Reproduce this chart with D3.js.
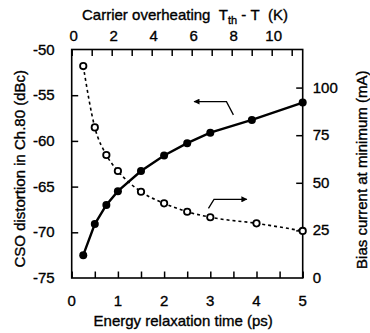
<!DOCTYPE html>
<html>
<head>
<meta charset="utf-8">
<script src="https://cdn.jsdelivr.net/npm/d3@7"></script>
<style>
  body { margin: 0; background: #fff; }
  text { font-family: "Liberation Sans", Arial, sans-serif; fill: #000; stroke: #000; stroke-width: 0.35px; }
</style>
</head>
<body>
<div id="chart"></div>
<script>
// relaxation time (ps)
const tau = [0.25, 0.5, 0.75, 1, 1.5, 2, 2.5, 3, 3.9, 5];
const tauBias = [0.25, 0.5, 0.75, 1, 1.5, 2, 2.5, 3, 4, 5];
// CSO distortion (dBc), left axis
const cso = [-72.5, -69.1, -67.0, -65.5, -63.3, -61.6, -60.25, -59.1, -57.7, -55.8];
// bias current at minimum (mA), right axis
const bias = [111.3, 79.1, 64.6, 56.2, 45.3, 39.2, 34.8, 31.9, 28.7, 24.7];

const xTicks = [0, 0.5, 1, 1.5, 2, 2.5, 3, 3.5, 4, 4.5, 5];
const xLabels = [0, 1, 2, 3, 4, 5];
const leftTicks = [-75, -70, -65, -60, -55, -50];
const rightTicks = [0, 25, 50, 75, 100];
const topTicks = [0, 1, 2, 3, 4, 5, 6, 7, 8, 9, 10, 11];
const topLabels = [0, 2, 4, 6, 8, 10];

const width = 370, height = 333;
const margin = { top: 49.5, right: 67.3, bottom: 55, left: 71.7 };
const w = width - margin.left - margin.right;
const h = height - margin.top - margin.bottom;

const svg = d3.select("#chart").append("svg")
  .attr("width", width)
  .attr("height", height);

const g = svg.append("g")
  .attr("transform", "translate(" + margin.left + "," + margin.top + ")");

const x = d3.scaleLinear().domain([0, 5]).range([0, w]);
const xTop = d3.scaleLinear().domain([0, 11.55]).range([0, w]);
const yL = d3.scaleLinear().domain([-75, -50]).range([h, 0]);
const yR = d3.scaleLinear().domain([0, 120]).range([h, 0]);

const tick = 6.5;
const fontSize = 15;

// bottom axis
g.append("g")
  .attr("transform", "translate(0," + h + ")")
  .call(d3.axisBottom(x).tickValues(xTicks).tickSize(-tick).tickSizeOuter(0).tickFormat(""))
  .call(a => a.select(".domain").remove());
g.selectAll(".xlab").data(xLabels).enter().append("text")
  .attr("x", d => x(d)).attr("y", h + 28)
  .attr("text-anchor", "middle").attr("font-size", fontSize)
  .text(d => d);

// top axis
g.append("g")
  .call(d3.axisTop(xTop).tickValues(topTicks).tickSize(-tick).tickSizeOuter(0).tickFormat(""))
  .call(a => a.select(".domain").remove());
g.selectAll(".tlab").data(topLabels).enter().append("text")
  .attr("x", d => xTop(d) + 2).attr("y", -9)
  .attr("text-anchor", "middle").attr("font-size", fontSize)
  .text(d => d);

// left axis
g.append("g")
  .call(d3.axisLeft(yL).tickValues(leftTicks.slice(1, -1)).tickSize(-tick).tickSizeOuter(0).tickFormat(""))
  .call(a => a.select(".domain").remove());
g.selectAll(".llab").data(leftTicks).enter().append("text")
  .attr("x", -17).attr("y", d => yL(d) + 5)
  .attr("text-anchor", "end").attr("font-size", fontSize)
  .text(d => d);

// right axis
g.append("g")
  .attr("transform", "translate(" + w + ",0)")
  .call(d3.axisRight(yR).tickValues(rightTicks.slice(1)).tickSize(-tick).tickSizeOuter(0).tickFormat(""))
  .call(a => a.select(".domain").remove());
g.selectAll(".rlab").data(rightTicks).enter().append("text")
  .attr("x", w + 10).attr("y", d => yR(d) + 5)
  .attr("text-anchor", "start").attr("font-size", fontSize)
  .text(d => d);

g.selectAll(".tick line").attr("stroke", "#000").attr("stroke-width", 1.5);

// frame
g.append("rect")
  .attr("width", w).attr("height", h)
  .attr("fill", "none").attr("stroke", "#000").attr("stroke-width", 1.6);

// axis titles
svg.append("text")
  .attr("x", 185).attr("y", 20)
  .attr("text-anchor", "middle").attr("font-size", fontSize)
  .html('Carrier overheating&#160;&#160;T<tspan dy="4" font-size="11">th</tspan><tspan dy="-4">&#160;-&#160;T&#160;&#160;(K)</tspan>');

svg.append("text")
  .attr("x", margin.left + w / 2 - 4).attr("y", 326)
  .attr("text-anchor", "middle").attr("font-size", fontSize)
  .text("Energy relaxation time (ps)");

svg.append("text")
  .attr("transform", "translate(25," + (margin.top + h / 2 + 5) + ") rotate(-90)")
  .attr("text-anchor", "middle").attr("font-size", fontSize)
  .text("CSO distortion in Ch.80 (dBc)");

svg.append("text")
  .attr("transform", "translate(367," + (margin.top + h / 2 + 6) + ") rotate(-90)")
  .attr("text-anchor", "middle").attr("font-size", fontSize)
  .text("Bias current at minimum (mA)");

// dashed bias curve
const biasPts = tauBias.map((t, i) => [t, bias[i]]);
g.append("path")
  .datum(biasPts)
  .attr("fill", "none").attr("stroke", "#000")
  .attr("stroke-width", 1.6).attr("stroke-dasharray", "3,3")
  .attr("d", d3.line().curve(d3.curveMonotoneX).x(d => x(d[0])).y(d => yR(d[1])));

g.selectAll(".open").data(biasPts).enter().append("circle")
  .attr("cx", d => x(d[0])).attr("cy", d => yR(d[1])).attr("r", 3.2)
  .attr("fill", "#fff").attr("stroke", "#000").attr("stroke-width", 1.8);

// solid CSO curve
const csoPts = tau.map((t, i) => [t, cso[i]]);
g.append("path")
  .datum(csoPts)
  .attr("fill", "none").attr("stroke", "#000").attr("stroke-width", 2.4)
  .attr("d", d3.line().x(d => x(d[0])).y(d => yL(d[1])));

g.selectAll(".filled").data(csoPts).enter().append("circle")
  .attr("cx", d => x(d[0])).attr("cy", d => yL(d[1])).attr("r", 4)
  .attr("fill", "#000");

// arrows pointing to each curve's axis
const defs = svg.append("defs");
defs.append("marker")
  .attr("id", "head").attr("viewBox", "0 0 10 10")
  .attr("refX", 9).attr("refY", 5)
  .attr("markerWidth", 8).attr("markerHeight", 6)
  .attr("markerUnits", "userSpaceOnUse")
  .attr("orient", "auto")
  .append("path").attr("d", "M0,0 L10,5 L0,10 Z").attr("fill", "#000");

const leftArrow = [[3.5, -57.15], [3.35, -55.7], [2.65, -55.7]];
g.append("path")
  .datum(leftArrow)
  .attr("fill", "none").attr("stroke", "#000").attr("stroke-width", 1.3)
  .attr("marker-end", "url(#head)")
  .attr("d", d3.line().x(d => x(d[0])).y(d => yL(d[1])));

const rightArrow = [[2.96, 36.6], [3.08, 41.3], [3.79, 41.3]];
g.append("path")
  .datum(rightArrow)
  .attr("fill", "none").attr("stroke", "#000").attr("stroke-width", 1.3)
  .attr("marker-end", "url(#head)")
  .attr("d", d3.line().x(d => x(d[0])).y(d => yR(d[1])));
</script>
</body>
</html>
